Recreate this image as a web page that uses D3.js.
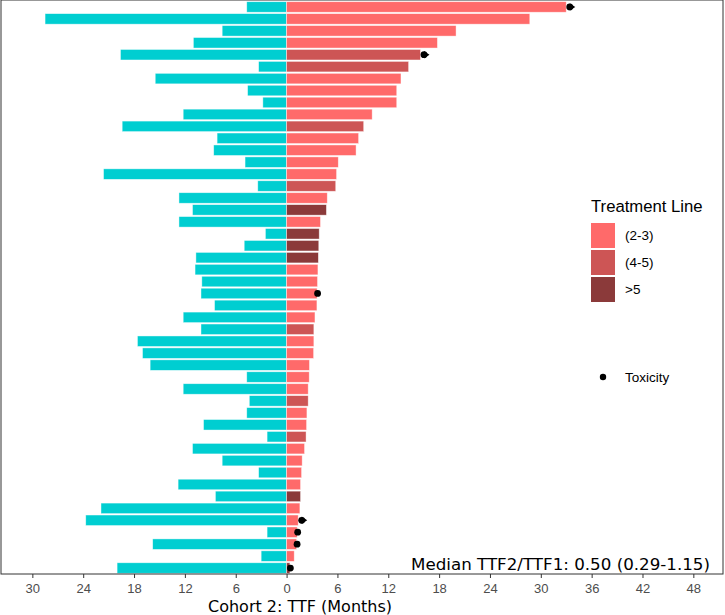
<!DOCTYPE html>
<html>
<head>
<meta charset="utf-8">
<script src="https://cdn.jsdelivr.net/npm/d3@7"></script>
<style>
  html, body { margin: 0; padding: 0; background: #fff; }
  svg { display: block; }
</style>
</head>
<body>
<div id="chart"></div>
<script>
// ---- Data (one row per patient, top to bottom) ----
const patients = d3.range(1, 49).map(i => "P" + i);

// TTF1 (left, cyan), months
const ttf1 = [4.7, 28.5, 7.6, 11.0, 19.6, 3.3, 15.5, 4.6, 2.8, 12.2,
              19.4, 8.2, 8.6, 4.9, 21.6, 3.4, 12.7, 11.1, 12.7, 2.5,
              5.0, 10.7, 10.8, 10.0, 10.1, 8.5, 12.2, 10.1, 17.6, 17.0,
              16.1, 4.7, 12.2, 4.4, 4.7, 9.8, 2.3, 11.1, 7.6, 3.3,
              12.8, 8.4, 21.9, 23.7, 2.3, 15.8, 3.0, 20.0];

// TTF2 (right, red), months
const ttf2 = [33.0, 28.7, 20.0, 17.8, 15.8, 14.4, 13.5, 13.0, 13.0, 10.1,
              9.1, 8.5, 8.2, 6.1, 5.9, 5.8, 4.8, 4.7, 4.0, 3.85,
              3.8, 3.75, 3.7, 3.65, 3.6, 3.58, 3.35, 3.22, 3.22, 3.19,
              2.7, 2.67, 2.55, 2.55, 2.4, 2.36, 2.3, 2.12, 1.84, 1.77,
              1.65, 1.65, 1.57, 1.37, 1.25, 1.18, 0.9, 0.39];

// Treatment line of TTF2
const lines = ["(2-3)", "(2-3)", "(2-3)", "(2-3)", "(4-5)", "(4-5)", "(2-3)", "(2-3)", "(2-3)", "(2-3)",
               "(4-5)", "(2-3)", "(2-3)", "(2-3)", "(2-3)", "(4-5)", "(2-3)", ">5", "(2-3)", ">5",
               ">5", ">5", "(2-3)", "(2-3)", "(2-3)", "(2-3)", "(2-3)", "(4-5)", "(2-3)", "(2-3)",
               "(2-3)", "(2-3)", "(2-3)", "(4-5)", "(2-3)", "(2-3)", "(4-5)", "(2-3)", "(2-3)", "(2-3)",
               "(2-3)", ">5", "(2-3)", "(2-3)", "(2-3)", "(2-3)", "(2-3)", ">5"];

// Rows with toxicity, and rows still ongoing (arrow)
const toxicityRows = [0, 4, 24, 43, 44, 45, 47];
const ongoingRows = [0, 4, 43];

const lineLevels = ["(2-3)", "(4-5)", ">5"];
const lineColors = ["#FF6A6A", "#CD5555", "#8B3A3A"];
const ttf1Color = "#00CED1";

const xTicks = [-30, -24, -18, -12, -6, 0, 6, 12, 18, 24, 30, 36, 42, 48];
const xTitle = "Cohort 2: TTF (Months)";
const medianNote = "Median TTF2/TTF1: 0.50 (0.29-1.15)";
const legendTitle = "Treatment Line";
const toxLabel = "Toxicity";

// ---- Layout ----
const W = 725, H = 615;
const panel = { left: 1, right: 723, top: 1, bottom: 574 };

const svg = d3.select("#chart").append("svg")
  .attr("width", W).attr("height", H);

const x = d3.scaleLinear().domain([-33.7, 51.5]).range([panel.left, panel.right]);
const y = d3.scaleBand().domain(patients).range([panel.top, panel.bottom])
  .paddingInner(0.12).paddingOuter(0.06);
const color = d3.scaleOrdinal().domain(lineLevels).range(lineColors);

const rows = patients.map((p, i) => ({ p, t1: ttf1[i], t2: ttf2[i], line: lines[i], i }));

// Left bars (TTF1)
svg.append("g").selectAll("rect").data(rows).join("rect")
  .attr("x", d => x(-d.t1))
  .attr("y", d => y(d.p))
  .attr("width", d => x(0) - x(-d.t1))
  .attr("height", y.bandwidth())
  .attr("fill", ttf1Color)
  .attr("stroke", "#fff").attr("stroke-width", 0.7).attr("stroke-opacity", 0.6);

// Right bars (TTF2)
svg.append("g").selectAll("rect").data(rows).join("rect")
  .attr("x", x(0))
  .attr("y", d => y(d.p))
  .attr("width", d => x(d.t2) - x(0))
  .attr("height", y.bandwidth())
  .attr("fill", d => color(d.line))
  .attr("stroke", "#fff").attr("stroke-width", 0.7).attr("stroke-opacity", 0.6);

// Ongoing arrows
const cy = d => y(d.p) + y.bandwidth() / 2;
svg.append("g").selectAll("path").data(ongoingRows.map(i => rows[i])).join("path")
  .attr("d", d => {
    const bx = x(d.t2);
    const c = cy(d);
    return `M${bx + 3.5},${c - 3.7} L${bx + 9},${c} L${bx + 3.5},${c + 3.7} Z`;
  })
  .attr("fill", "#000");

// Toxicity points
svg.append("g").selectAll("circle").data(toxicityRows.map(i => rows[i])).join("circle")
  .attr("cx", d => x(d.t2) + (ongoingRows.includes(d.i) ? 3.5 : 0.5))
  .attr("cy", cy)
  .attr("r", 3.4)
  .attr("fill", "#000");

// Panel border
svg.append("rect")
  .attr("x", panel.left).attr("y", 0)
  .attr("width", panel.right - panel.left)
  .attr("height", panel.bottom - 0)
  .attr("fill", "none").attr("stroke", "#333").attr("stroke-width", 1);

// X axis
const axis = d3.axisBottom(x).tickValues(xTicks)
  .tickFormat(d => Math.abs(d)).tickSize(4).tickPadding(6).tickSizeOuter(0);
const gx = svg.append("g").attr("transform", `translate(0,${panel.bottom})`).call(axis);
gx.select(".domain").remove();
gx.selectAll(".tick line").attr("stroke", "#333");
gx.selectAll(".tick text")
  .attr("fill", "#4D4D4D")
  .style("font-family", "'Liberation Sans', Arial, sans-serif")
  .style("font-size", "13px");

// X title
svg.append("text")
  .attr("x", 208).attr("y", 611.5)
  .style("font-family", "'DejaVu Sans', sans-serif")
  .style("font-size", "16px")
  .attr("fill", "#000")
  .text(xTitle);

// Median annotation
svg.append("text")
  .attr("x", 710).attr("y", 570)
  .attr("text-anchor", "end")
  .style("font-family", "'DejaVu Sans', sans-serif")
  .style("font-size", "16.7px")
  .attr("fill", "#000")
  .text(medianNote);

// Legend
const lg = svg.append("g");
lg.append("text")
  .attr("x", 591).attr("y", 212)
  .style("font-family", "'Liberation Sans', Arial, sans-serif")
  .style("font-size", "16.7px")
  .attr("fill", "#000")
  .text(legendTitle);

lineLevels.forEach((lv, k) => {
  const ky = 223 + k * 27;
  lg.append("rect")
    .attr("x", 591).attr("y", ky).attr("width", 24).attr("height", 25)
    .attr("fill", color(lv));
  lg.append("text")
    .attr("x", 625).attr("y", ky + 12.5)
    .attr("dy", "0.35em")
    .style("font-family", "'Liberation Sans', Arial, sans-serif")
    .style("font-size", "13.5px")
    .attr("fill", "#000")
    .text(lv);
});

lg.append("circle").attr("cx", 603).attr("cy", 377).attr("r", 3.2).attr("fill", "#000");
lg.append("text")
  .attr("x", 625).attr("y", 377).attr("dy", "0.35em")
  .style("font-family", "'Liberation Sans', Arial, sans-serif")
  .style("font-size", "13.5px")
  .attr("fill", "#000")
  .text(toxLabel);
</script>
</body>
</html>
